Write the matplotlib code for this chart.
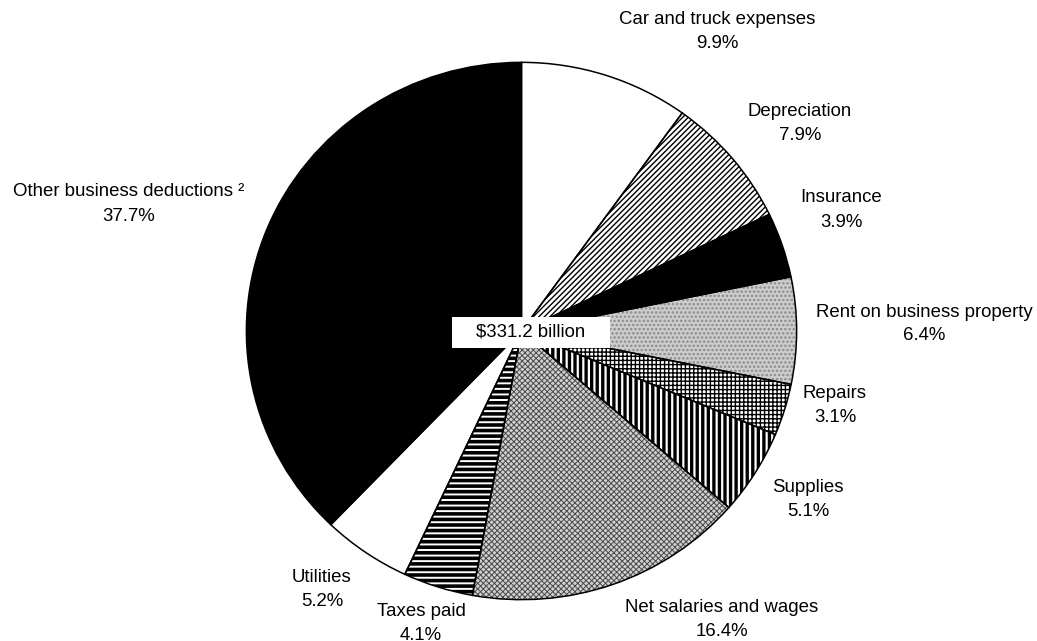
import matplotlib
matplotlib.use('Agg')
import matplotlib.pyplot as plt
from matplotlib.patches import Rectangle

# slices, clockwise from 12 o'clock
labels = ["Car and truck expenses", "Depreciation", "Insurance",
          "Rent on business property", "Repairs", "Supplies",
          "Net salaries and wages", "Taxes paid", "Utilities",
          "Other business deductions \u00b2"]
shares = [9.9, 7.9, 3.9, 6.4, 3.1, 5.1, 16.4, 4.1, 5.2, 37.7]
total_label = "$331.2 billion"

# look of each slice: face, hatch, hatch colour, hatch width
faces = ["white", "white", "black", "#cdcdcd", "white", "white", "#d0d0d0", "white", "white", "black"]
hatches = [None, "//////", None, "....", "++++", "|||", "xxxxxx", "---", None, None]
hcolors = ["black", "black", "black", "#8a8a8a", "black", "black", "#4a4a4a", "black", "black", "black"]
hwidths = [1, 1.0, 1, 1.2, 1.0, 2.4, 0.7, 2.6, 1, 1]

# label centres in pixels (x, y of first line)
label_pos = [(717, 20), (800, 112), (841, 198), (924, 312), (835, 393),
             (808, 487), (722, 608), (421, 612), (322, 578), (129, 192)]

W, H = 1037, 641
fig = plt.figure(figsize=(W / 100, H / 100), dpi=100)

# pie bounding box in pixels (slightly oval scan)
left, right, top, bottom = 245, 798, 61, 601
ax = fig.add_axes([left / W, 1 - bottom / H, (right - left) / W, (bottom - top) / H])

wedges, _ = ax.pie(shares, startangle=90, counterclock=False, radius=1,
                   wedgeprops=dict(linewidth=0))
for w, fc, h, hc, hw in zip(wedges, faces, hatches, hcolors, hwidths):
    w.set_facecolor(fc)
    w.set_edgecolor(hc)
    if h:
        w.set_hatch(h)
        try:
            w.set_hatch_linewidth(hw)
        except AttributeError:
            pass

# outlines on top
outl, _ = ax.pie(shares, startangle=90, counterclock=False, radius=1,
                 wedgeprops=dict(fill=False, edgecolor="black", linewidth=1.1))

ax.set_aspect('auto')
ax.set_xlim(-1.005, 1.005)
ax.set_ylim(-1.005, 1.005)
ax.axis('off')

# centre box
fig.patches.append(Rectangle((452 / W, 1 - 348 / H), 158 / W, 31 / H,
                             transform=fig.transFigure, facecolor="white",
                             edgecolor="none", zorder=5))
fig.text(531 / W, 1 - 332 / H, total_label, ha="center", va="center",
         fontsize=13.4, family="Liberation Sans", zorder=6)

for lab, v, (x, y) in zip(labels, shares, label_pos):
    fig.text(x / W, 1 - y / H, lab, ha="center", va="center",
             fontsize=13.4, family="Liberation Sans")
    fig.text(x / W, 1 - (y + 24) / H, f"{v}%", ha="center", va="center",
             fontsize=13.4, family="Liberation Sans")

fig.savefig("out.png", dpi=100)
